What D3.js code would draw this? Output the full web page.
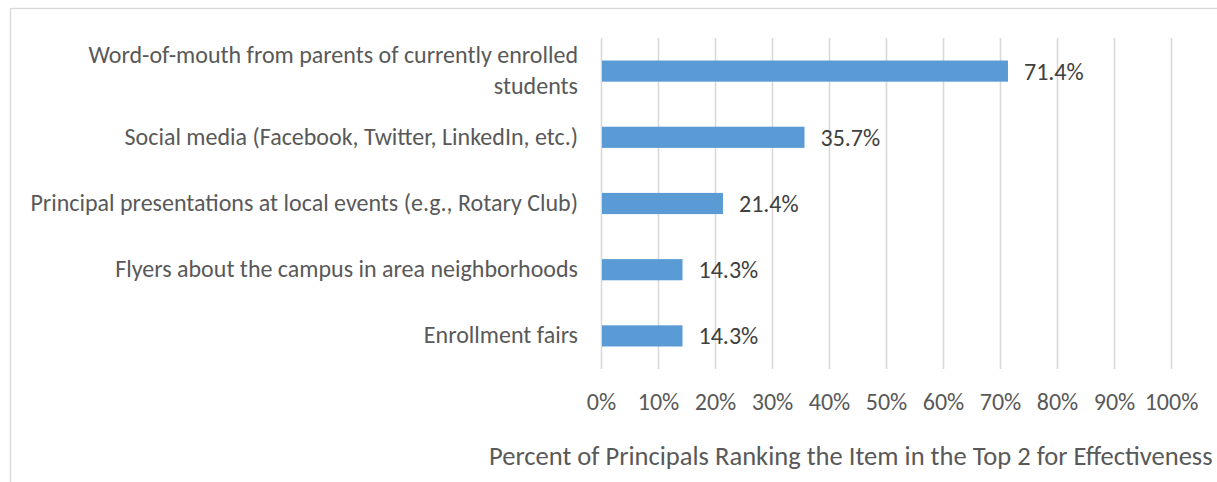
<!DOCTYPE html>
<html>
<head>
<meta charset="utf-8">
<script src="https://cdn.jsdelivr.net/npm/d3@7"></script>
<style>
  html, body { margin: 0; padding: 0; background: #fff; overflow: hidden; }
  svg { display: block; }
  text { font-family: Carlito, Calibri, Lato, "Open Sans", sans-serif; }
</style>
</head>
<body>
<svg id="chart" width="1217" height="482"></svg>
<script>
const categories = [
  "Word-of-mouth from parents of currently enrolled\nstudents",
  "Social media (Facebook, Twitter, LinkedIn, etc.)",
  "Principal presentations at local events (e.g., Rotary Club)",
  "Flyers about the campus in area neighborhoods",
  "Enrollment fairs"
];
const values = [71.4, 35.7, 21.4, 14.3, 14.3];
const tickValues = [0, 10, 20, 30, 40, 50, 60, 70, 80, 90, 100];
const xAxisTitle = "Percent of Principals Ranking the Item in the Top 2 for Effectiveness";

const svg = d3.select("#chart");
const W = 1217, H = 482;

// chart frame
svg.append("rect").attr("x", 10.5).attr("y", 8.5).attr("width", W + 20).attr("height", H + 20)
  .attr("fill", "#fff").attr("stroke", "#D9D9D9").attr("stroke-width", 1.3);

// font fitting: match reference text widths
function fitSize(str, target) {
  const probe = svg.append("text").attr("font-size", 20).text(str);
  const w = probe.node().getComputedTextLength();
  probe.remove();
  return 20 * target / w;
}
const fs = fitSize("Principal presentations at local events (e.g., Rotary Club)", 548);
const fsTitle = fitSize(xAxisTitle, 724);

const plot = { left: 601, right: 1171, top: 38, bottom: 369 };

const x = d3.scaleLinear().domain([0, 100]).range([plot.left, plot.right]);
const y = d3.scaleBand().domain(categories).range([plot.top, plot.bottom]).paddingInner(0.68).paddingOuter(0.34);

// gridlines
svg.append("g").selectAll("line").data(tickValues).join("line")
  .attr("x1", d => Math.round(x(d)) + 0.5).attr("x2", d => Math.round(x(d)) + 0.5)
  .attr("y1", plot.top).attr("y2", plot.bottom)
  .attr("stroke", "#D9D9D9").attr("stroke-width", 1.6);

// bars
svg.append("g").selectAll("rect").data(values).join("rect")
  .attr("x", x(0) + 1)
  .attr("y", (d, i) => y(categories[i]))
  .attr("width", d => x(d) - x(0) - 1)
  .attr("height", y.bandwidth())
  .attr("fill", "#5B9BD5");

// value labels
svg.append("g").selectAll("text").data(values).join("text")
  .attr("x", d => x(d) + 16)
  .attr("y", (d, i) => y(categories[i]) + y.bandwidth() / 2)
  .attr("dy", "0.35em")
  .attr("font-size", fs)
  .attr("fill", "#404040")
  .text(d => d.toFixed(1) + "%");

// category labels
const lineH = 31;
svg.append("g").selectAll("text").data(categories).join("text")
  .attr("text-anchor", "end")
  .attr("font-size", fs)
  .attr("fill", "#595959")
  .each(function(d) {
    const lines = d.split("\n");
    const cy = y(d) + y.bandwidth() / 2 - 1;
    const t = d3.select(this);
    lines.forEach((ln, k) => {
      t.append("tspan")
        .attr("x", 578)
        .attr("y", cy + (k - (lines.length - 1) / 2) * lineH)
        .attr("dy", "0.35em")
        .text(ln);
    });
  });

// x axis tick labels
const xAxis = d3.axisBottom(x).tickValues(tickValues).tickFormat(d => d + "%").tickSize(0).tickPadding(0);
const ax = svg.append("g").attr("transform", `translate(0,${402})`).call(xAxis);
ax.select(".domain").remove();
ax.selectAll("text").attr("font-size", fs).attr("fill", "#595959")
  .attr("font-family", "Carlito, Calibri, Lato, 'Open Sans', sans-serif").attr("dy", "0.35em").attr("y", 0);

// axis title
svg.append("text")
  .attr("x", 489).attr("y", 456).attr("dy", "0.35em")
  .attr("font-size", fsTitle).attr("fill", "#595959")
  .text(xAxisTitle);
</script>
</body>
</html>
